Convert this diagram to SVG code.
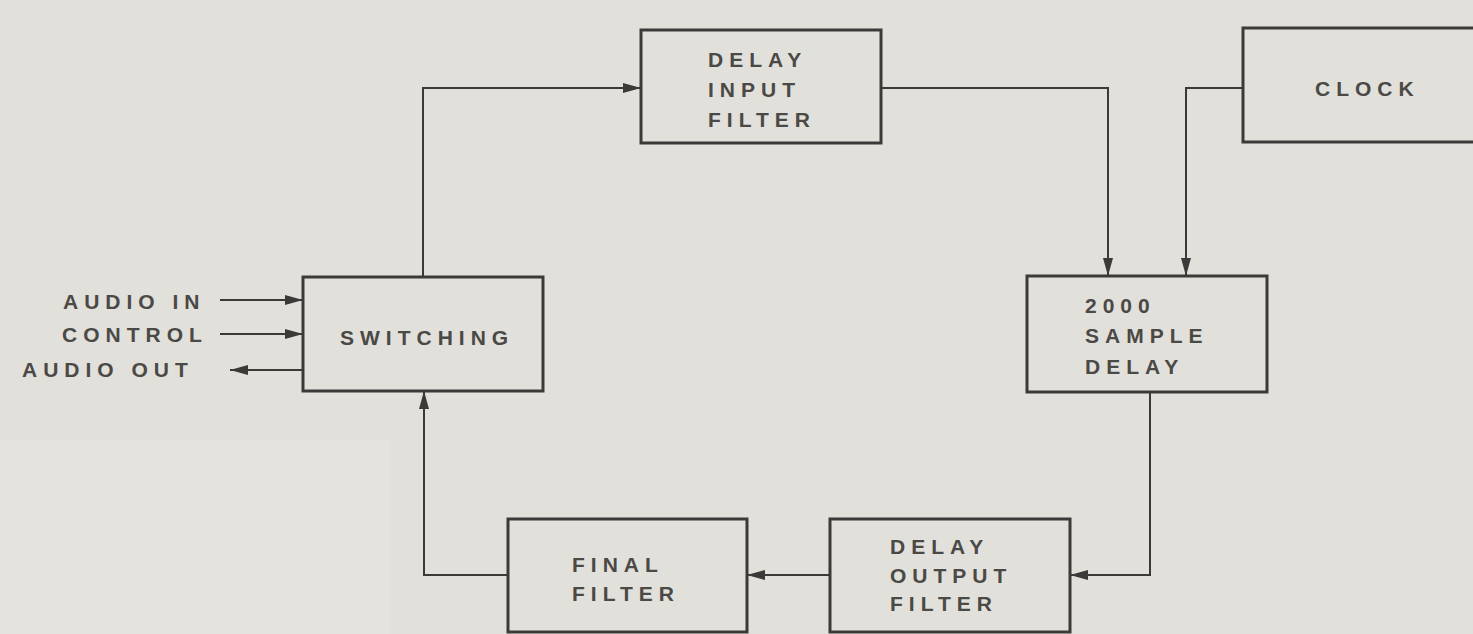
<svg xmlns="http://www.w3.org/2000/svg" width="1473" height="634" viewBox="0 0 1473 634">
<defs>
<style>
.box{fill:none;stroke:#3b3a38;stroke-width:3}
.wire{fill:none;stroke:#3b3a38;stroke-width:2}
.t{font-family:"Liberation Sans",Arial,sans-serif;font-size:21px;fill:#4a4946;letter-spacing:6px;font-weight:bold}
</style>
<marker id="ah" markerUnits="userSpaceOnUse" markerWidth="20" markerHeight="12" refX="18" refY="6" orient="auto">
<path d="M0,1 L18,6 L0,11 Z" fill="#3b3a38"/>
</marker>
</defs>
<rect width="1473" height="634" fill="#e2e0db"/>
<rect x="0" y="440" width="390" height="194" fill="#e5e3dd"/>
<g id="connectors">
<path class="wire" d="M423,277 V88 H641" marker-end="url(#ah)"/>
<path class="wire" d="M881,88 H1108 V276" marker-end="url(#ah)"/>
<path class="wire" d="M1243,88 H1186 V276" marker-end="url(#ah)"/>
<path class="wire" d="M1150,392 V575 H1070" marker-end="url(#ah)"/>
<path class="wire" d="M830,575 H747" marker-end="url(#ah)"/>
<path class="wire" d="M508,575 H424 V391" marker-end="url(#ah)"/>
<path class="wire" d="M220,300 H303" marker-end="url(#ah)"/>
<path class="wire" d="M220,334 H303" marker-end="url(#ah)"/>
<path class="wire" d="M303,370 H230" marker-end="url(#ah)"/>
</g>
<g id="io-labels">
<text class="t" x="63" y="309">AUDIO IN</text>
<text class="t" x="62" y="342">CONTROL</text>
<text class="t" x="22" y="377">AUDIO OUT</text>
</g>
<g id="switching">
<rect class="box" x="303" y="277" width="240" height="114"/>
<text class="t" x="340" y="345">SWITCHING</text>
</g>
<g id="delay-input-filter">
<rect class="box" x="641" y="30" width="240" height="113"/>
<text class="t" x="708" y="67">DELAY</text>
<text class="t" x="708" y="97">INPUT</text>
<text class="t" x="708" y="127">FILTER</text>
</g>
<g id="clock">
<rect class="box" x="1243" y="28" width="240" height="114"/>
<text class="t" x="1315" y="96">CLOCK</text>
</g>
<g id="sample-delay">
<rect class="box" x="1027" y="276" width="240" height="116"/>
<text class="t" x="1085" y="313">2000</text>
<text class="t" x="1085" y="343">SAMPLE</text>
<text class="t" x="1085" y="374">DELAY</text>
</g>
<g id="final-filter">
<rect class="box" x="508" y="519" width="239" height="113"/>
<text class="t" x="572" y="572">FINAL</text>
<text class="t" x="572" y="601">FILTER</text>
</g>
<g id="delay-output-filter">
<rect class="box" x="830" y="519" width="240" height="113"/>
<text class="t" x="890" y="554">DELAY</text>
<text class="t" x="890" y="583">OUTPUT</text>
<text class="t" x="890" y="611">FILTER</text>
</g>
</svg>
